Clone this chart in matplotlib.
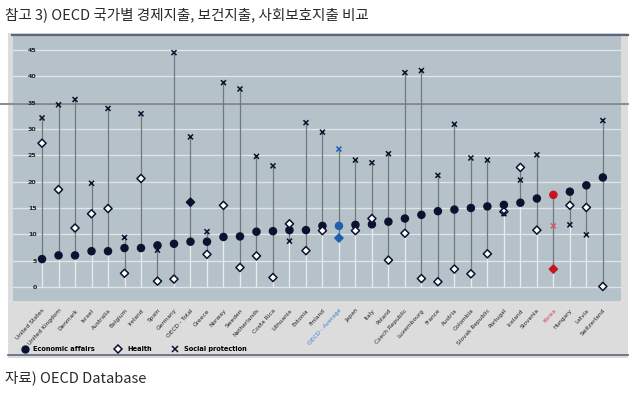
import numpy as np
import matplotlib.pyplot as plt
from matplotlib.patches import Rectangle
from matplotlib.lines import Line2D

countries = ['United States', 'United Kingdom', 'Denmark', 'Israel', 'Australia', 'Belgium',
             'Ireland', 'Spain', 'Germany', 'OECD - Total', 'Greece', 'Norway', 'Sweden',
             'Netherlands', 'Costa Rica', 'Lithuania', 'Estonia', 'Finland', 'OECD - Average',
             'Japan', 'Italy', 'Poland', 'Czech Republic', 'Luxembourg', 'France', 'Austria',
             'Colombia', 'Slovak Republic', 'Portugal', 'Iceland', 'Slovenia', 'Korea',
             'Hungary', 'Latvia', 'Switzerland']
econ = [5.3, 6.0, 6.0, 6.8, 6.8, 7.4, 7.4, 7.9, 8.2, 8.6, 8.6, 9.5, 9.6, 10.5, 10.6,
        10.8, 10.8, 11.6, 11.6, 11.8, 11.9, 12.4, 13.0, 13.7, 14.4, 14.7, 15.0, 15.3,
        15.6, 16.0, 16.8, 17.5, 18.1, 19.3, 20.8]
health = [27.3, 18.5, 11.2, 13.9, 14.9, 2.6, 20.6, 1.1, 1.5, 16.1, 6.2, 15.5, 3.7, 5.9, 1.8,
          12.0, 6.9, 10.7, 9.3, 10.7, 13.0, 5.1, 10.2, 1.6, 1.0, 3.4, 2.5, 6.3,
          14.3, 22.7, 10.8, 3.4, 15.5, 15.1, 0.1]
social = [32.1, 34.6, 35.6, 19.7, 33.9, 9.4, 32.9, 7.0, 44.5, 28.5, 10.5, 38.8, 37.6, 24.8, 23.0,
          8.7, 31.2, 29.4, 26.2, 24.1, 23.6, 25.3, 40.7, 41.1, 21.2, 30.9, 24.5, 24.1,
          13.9, 20.3, 25.1, 11.6, 11.8, 9.9, 31.6]
yticks = [0, 5, 10, 15, 20, 25, 30, 35, 40, 45]

W, H = 640.0, 393.0
navy = '#0c1130'
blue = '#1f5fb0'
red = '#c8161d'

fig = plt.figure(figsize=(6.4, 3.93), dpi=100)
fig.patch.set_facecolor('white')

# outer light grey box with dark top / bottom rules
fig.add_artist(Rectangle((8 / W, 1 - 358 / H), 620 / W, 325 / H, transform=fig.transFigure,
                         facecolor='#dcdcdc', edgecolor='none', zorder=0))
fig.add_artist(Line2D([12 / W, 628 / W], [1 - 35 / H, 1 - 35 / H], color='#5c6580', lw=1.6))
fig.add_artist(Line2D([8 / W, 628 / W], [1 - 355 / H, 1 - 355 / H], color='#5c6580', lw=1.2))

ax = fig.add_axes([13 / W, 1 - 301 / H, 608 / W, 265 / H])
ax.set_facecolor('#b6c2ca')
for s in ax.spines.values():
    s.set_visible(False)

x = np.arange(len(countries))
ax.set_xlim(-1.76, 35.1)
ax.set_ylim(-2.66, 47.66)

for v in yticks:
    ax.axhline(v, color='#dfe6ea', lw=0.9, zorder=1)
# scan artefact line across the picture
ax.axhline(34.8, xmin=-0.021, xmax=1.011, color='#7d858c', lw=1.3, clip_on=False, zorder=1)

lo = np.minimum(np.minimum(econ, health), social)
hi = np.maximum(np.maximum(econ, health), social)
ax.vlines(x, 0, lo, color='#e6ecef', lw=0.9, zorder=2)
ax.vlines(x, lo, hi, color='#6f7980', lw=0.9, zorder=2)

ec = [navy] * len(x)
hc = [navy] * len(x)
hf = ['white'] * len(x)
sc = [navy] * len(x)
hf[9] = navy
ec[18] = hc[18] = hf[18] = sc[18] = blue
ec[31] = hc[31] = hf[31] = red
sc[31] = '#d35a66'

ax.scatter(x, econ, s=26, c=ec, zorder=4)
ax.scatter(x, health, s=17, marker='D', facecolors=hf, edgecolors=hc, linewidths=1.1, zorder=4)
ax.scatter(x, social, s=13, marker='x', c=sc, linewidths=1.1, zorder=4)

ax.set_yticks(yticks)
ax.set_yticklabels([str(v) for v in yticks], fontsize=4.5, fontweight='bold', color='#222222')
ax.tick_params(axis='y', length=0, pad=-17)
ax.set_xticks(x)
ax.set_xticklabels(countries, rotation=48, ha='right', va='top', rotation_mode='anchor',
                   fontsize=4.2, color='#222222')
ax.tick_params(axis='x', length=0, pad=5)
for lab in ax.get_xticklabels():
    if lab.get_text() == 'OECD - Average':
        lab.set_color('#3b7fd8')
    if lab.get_text() == 'Korea':
        lab.set_color('#d0404e')

handles = [Line2D([], [], ls='none', marker='o', ms=5, color=navy),
           Line2D([], [], ls='none', marker='D', ms=4.2, mfc='white', mec=navy, mew=1.1),
           Line2D([], [], ls='none', marker='x', ms=4, color=navy, mew=1.1)]
fig.legend(handles, ['Economic affairs', 'Health', 'Social protection'], ncol=3,
           loc='center left', bbox_to_anchor=(18 / W, 1 - 349 / H), frameon=False,
           prop={'size': 4.8, 'weight': 'bold'}, handlelength=1.0, handletextpad=0.8,
           columnspacing=3.0, borderpad=0)

fig.text(5 / W, 1 - 15 / H, '참고 3) OECD 국가별 경제지출, 보건지출, 사회보호지출 비교',
         fontsize=10.5, family=['Noto Sans CJK KR', 'DejaVu Sans'], va='center', ha='left',
         color='#2a2a2a')
fig.text(5 / W, 1 - 378 / H, '자료) OECD Database', fontsize=10.5,
         family=['Noto Sans CJK KR', 'DejaVu Sans'], va='center', ha='left', color='#2a2a2a')

fig.savefig('out.png', dpi=100)
